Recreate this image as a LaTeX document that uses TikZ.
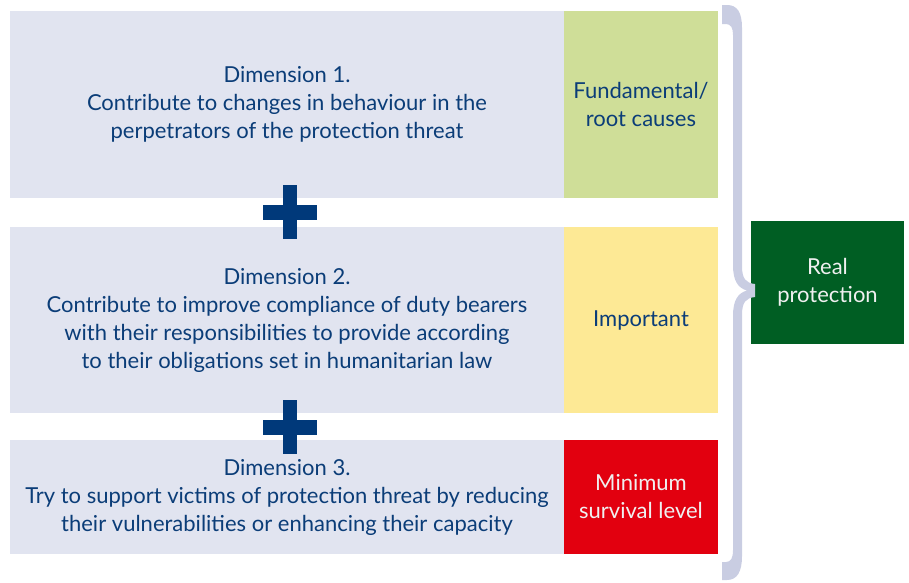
\documentclass[tikz,border=0pt]{standalone}
\usepackage{fontspec}
\setmainfont{Lato}
\definecolor{panelgrey}{HTML}{E1E4F0}
\definecolor{rootgreen}{HTML}{CFDE98}
\definecolor{importyellow}{HTML}{FDE995}
\definecolor{survivalred}{HTML}{E2000F}
\definecolor{realgreen}{HTML}{005E23}
\definecolor{textblue}{HTML}{0B3D78}
\definecolor{plusblue}{HTML}{00397A}
\definecolor{bracegrey}{HTML}{C9CDE2}
\tikzset{
  dimbox/.style={fill=panelgrey, draw=none, inner sep=0pt, minimum width=554pt,
    align=center, text=textblue, font=\fontsize{22}{28}\selectfont},
  levelbox/.style={draw=none, inner sep=0pt, minimum width=154pt,
    align=center, font=\fontsize{22}{28}\selectfont},
  plusbar/.style={fill=plusblue, draw=none},
  bracefill/.style={fill=bracegrey, draw=none}
}
\begin{document}
\begin{tikzpicture}[x=1pt, y=-1pt]
\useasboundingbox (0,0) rectangle (909,582);

% three dimensions
\node[dimbox, minimum height=187pt] (d1) at (287,104.5)
  {Dimension 1.\\Contribute to changes in behaviour in the\\perpetrators of the protection threat};
\node[dimbox, minimum height=186pt] (d2) at (287,320)
  {Dimension 2.\\Contribute to improve compliance of duty bearers\\with their responsibilities to provide according\\to their obligations set in humanitarian law};
\node[dimbox, minimum height=114pt] (d3) at (287,497)
  {Dimension 3.\\Try to support victims of protection threat by reducing\\their vulnerabilities or enhancing their capacity};

% level of each dimension
\node[levelbox, minimum height=187pt, fill=rootgreen, text=textblue] (l1) at (641,104.5)
  {Fundamental/\\root causes};
\node[levelbox, minimum height=186pt, fill=importyellow, text=textblue] (l2) at (641,320)
  {Important};
\node[levelbox, minimum height=114pt, fill=survivalred, text=white!94!black] (l3) at (641,497)
  {Minimum\\survival level};

% result
\node[levelbox, minimum width=153pt, minimum height=123pt, fill=realgreen, text=white!94!black] (real) at (827.5,282.5)
  {Real\\protection};

% plus signs between the dimensions
\foreach \cy in {212,427} {
  \fill[plusbar] (283,\cy-27) rectangle (297,\cy+27);
  \fill[plusbar] (263,\cy-7.5) rectangle (317,\cy+7.5);
}

% curly brace gathering the three dimensions
\fill[bracefill]
  (722,5) -- (727,5) .. controls (737,5) and (742,12) .. (742,28)
  -- (742,266) .. controls (742,279) and (746,283) .. (755,284)
  -- (755,297) .. controls (746,298) and (742,302) .. (742,315)
  -- (742,556) .. controls (742,572) and (737,580) .. (727,580)
  -- (722,580) -- (722,562) -- (726,562)
  .. controls (731,562) and (733,558) .. (733,550)
  -- (733,316) .. controls (733,300) and (738,293) .. (747,290.5)
  .. controls (738,288) and (733,281) .. (733,265)
  -- (733,35) .. controls (733,28) and (731,24) .. (726,24)
  -- (722,24) -- cycle;
\end{tikzpicture}
\end{document}
